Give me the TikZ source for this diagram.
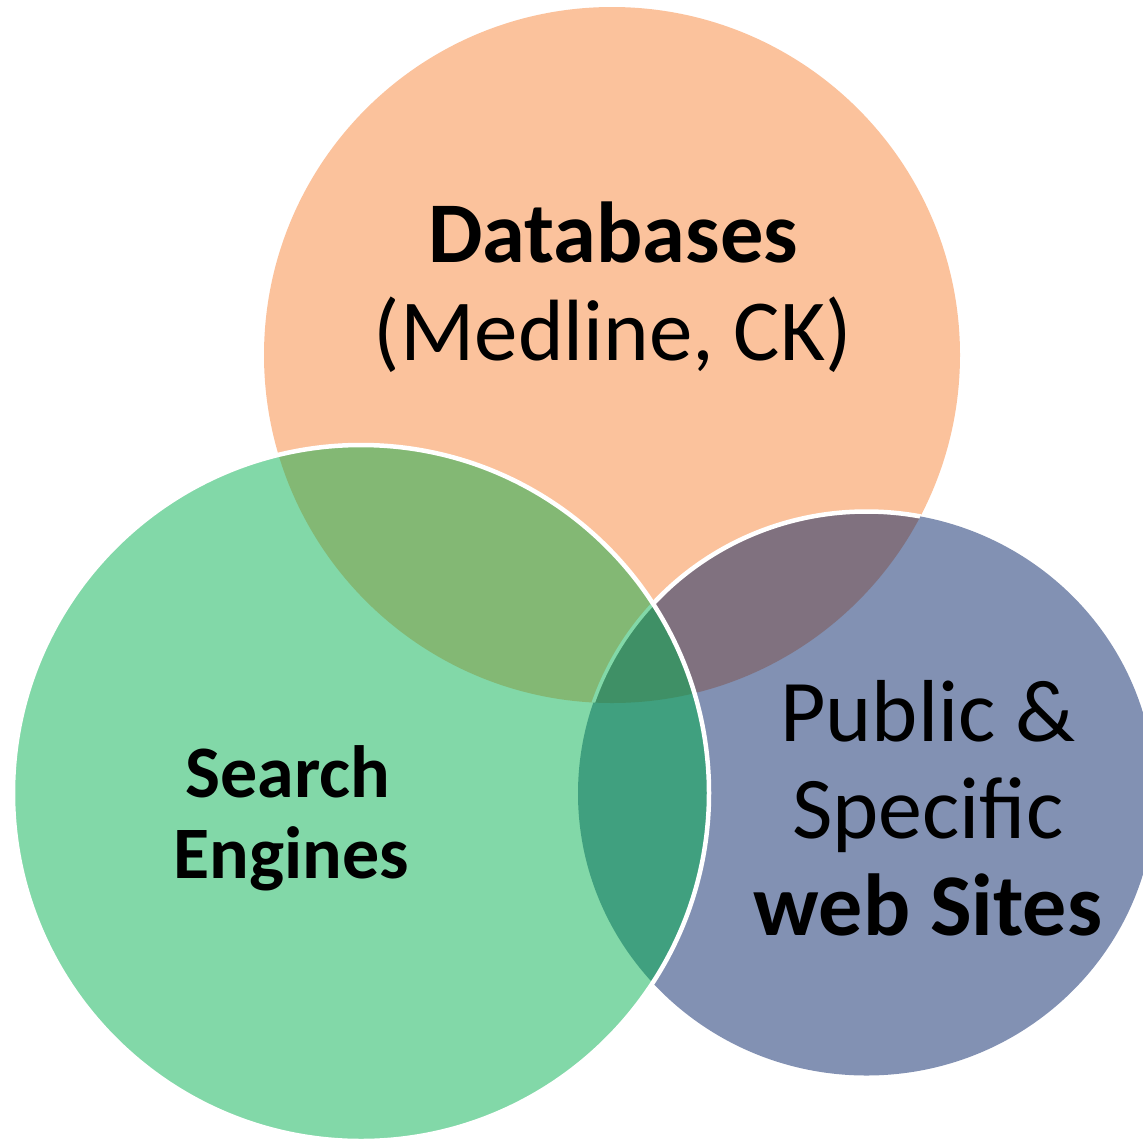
\documentclass[tikz,border=0pt]{standalone}
\usepackage{fontspec}
\setmainfont{Carlito}
\definecolor{orangeC}{HTML}{FBC29C}
\definecolor{greenC}{HTML}{82D8A8}
\definecolor{blueC}{HTML}{8291B3}
\definecolor{ogC}{HTML}{83B874}
\definecolor{obC}{HTML}{80717F}
\definecolor{gbC}{HTML}{40A07F}
\definecolor{ogbC}{HTML}{3F9066}
\tikzset{
  outlineW/.style={draw=white, line width=4.5pt},
  innerG/.style={draw=greenC, line width=3.5pt},
  bigbold/.style={anchor=base, inner sep=0pt, font=\fontsize{86.5}{98}\selectfont\bfseries},
  bigreg/.style={anchor=base, inner sep=0pt, font=\fontsize{87}{98}\selectfont},
  midbold/.style={anchor=base, inner sep=0pt, font=\fontsize{74}{82}\selectfont\bfseries},
  webreg/.style={anchor=base, inner sep=0pt, font=\fontsize{88}{97}\selectfont},
  webbold/.style={anchor=base, inner sep=0pt, font=\fontsize{88}{97}\selectfont\bfseries},
  blueshape/.style={x radius=288.5pt, y radius=282pt}
}
\begin{document}
\begin{tikzpicture}[x=1pt,y=-1pt]
\useasboundingbox (0,0) rectangle (1143,1141);
\coordinate (O) at (612,355);
\coordinate (G) at (361,793);
\coordinate (B) at (866.5,793.5);
% base shapes
\fill[orangeC] (O) circle[radius=348pt];
\fill[blueC] (B) ellipse[blueshape];
\begin{scope}
  \clip (O) circle[radius=348pt];
  \fill[obC] (B) ellipse[blueshape];
  \draw[outlineW] (B) ellipse[blueshape];
\end{scope}
\fill[greenC] (G) circle[radius=348pt];
\begin{scope}
  \clip (G) circle[radius=348pt];
  \fill[ogC] (O) circle[radius=348pt];
\end{scope}
\begin{scope}
  \clip (G) circle[radius=348pt];
  \fill[gbC] (B) ellipse[blueshape];
\end{scope}
\begin{scope}
  \clip (G) circle[radius=348pt];
  \clip (O) circle[radius=348pt];
  \fill[ogbC] (B) ellipse[blueshape];
  \draw[innerG] (B) ellipse[blueshape];
\end{scope}
\draw[outlineW] (G) circle[radius=348pt];
% labels
\node[bigbold] (db1) at (613,262) {Databases};
\node[bigreg] (db2) at (613,360) {(Medline, CK)};
\node[midbold] (se1) at (288,797) {Search};
\node[midbold] (se2) at (291,878) {Engines};
\node[webreg] (ws1) at (928,741) {Public \&};
\node[webreg] (ws2) at (928,838) {Specific};
\node[webbold] (ws3) at (928,935) {web Sites};
\end{tikzpicture}
\end{document}
